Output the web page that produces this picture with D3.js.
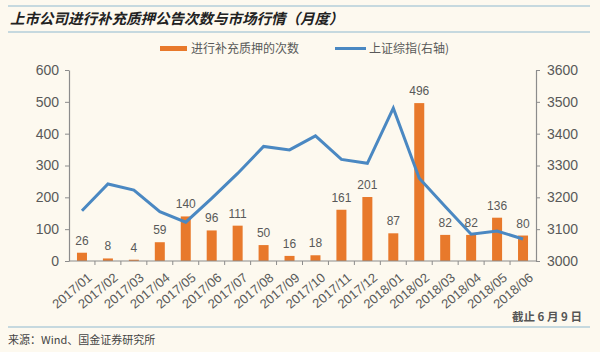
<!DOCTYPE html>
<html><head><meta charset="utf-8">
<script src="https://cdn.jsdelivr.net/npm/d3@7/dist/d3.min.js"></script>
<style>
html,body{margin:0;padding:0;background:#fdf9ef;}
svg{display:block;}
</style></head><body>
<svg id="c" width="600" height="352"></svg>
<script>
const months = ["2017/01","2017/02","2017/03","2017/04","2017/05","2017/06","2017/07","2017/08","2017/09","2017/10","2017/11","2017/12","2018/01","2018/02","2018/03","2018/04","2018/05","2018/06"];
const pledgeCounts = [26,8,4,59,140,96,111,50,16,18,161,201,87,496,82,82,136,80];
const shIndex = [3158,3242,3223,3155,3122,3197,3275,3360,3349,3393,3319,3307,3480,3260,3171,3084,3094,3069];
const leftTicks = [0,100,200,300,400,500,600];
const rightTicks = [3000,3100,3200,3300,3400,3500,3600];

const svg = d3.select("#c");
const W=600,H=352;
const bg="#fdf9ef", orange="#e8792b", blue="#4a88c2", axisCol="#8c8c8c", txt="#595959", rule="#8fb9cf";
const cjk = "'Noto Sans CJK SC','Noto Sans',sans-serif";
const lat = "'Liberation Sans',Arial,sans-serif";

svg.append("rect").attr("width",W).attr("height",H).attr("fill",bg);

// header rules & title
svg.append("line").attr("x1",8).attr("x2",590).attr("y1",6).attr("y2",6).attr("stroke",rule).attr("stroke-width",1.2);
svg.append("line").attr("x1",8).attr("x2",590).attr("y1",32).attr("y2",32).attr("stroke",rule).attr("stroke-width",1.2);
svg.append("text").attr("x",10).attr("y",24).attr("font-family",cjk).attr("font-size",14.5).attr("font-weight","bold")
  .attr("font-style","italic").attr("fill","#222").text("上市公司进行补充质押公告次数与市场行情（月度）");

const m={l:69,r:536,t:70,b:261};
const xb=d3.scaleBand().domain(months).range([m.l,m.r]);
const yL=d3.scaleLinear().domain([0,600]).range([m.b,m.t]);
const yR=d3.scaleLinear().domain([3000,3600]).range([m.b,m.t]);

// legend
const lg=svg.append("g");
lg.append("rect").attr("x",160).attr("y",46).attr("width",27).attr("height",5).attr("fill",orange);
lg.append("text").attr("x",191).attr("y",53).attr("font-family",cjk).attr("font-size",12).attr("fill",txt).text("进行补充质押的次数");
lg.append("line").attr("x1",335).attr("x2",366).attr("y1",48.5).attr("y2",48.5).attr("stroke",blue).attr("stroke-width",3);
lg.append("text").attr("x",369).attr("y",53).attr("font-family",cjk).attr("font-size",12).attr("fill",txt).text("上证综指(右轴)");

// bars
svg.append("g").selectAll("rect").data(months).join("rect")
  .attr("x",d=>xb(d)+xb.bandwidth()/2-5).attr("width",10)
  .attr("y",(d,i)=>yL(pledgeCounts[i])).attr("height",(d,i)=>m.b-yL(pledgeCounts[i]))
  .attr("fill",orange);

// line
const line=d3.line().x((d,i)=>xb(months[i])+xb.bandwidth()/2).y(d=>yR(d));
svg.append("path").datum(shIndex).attr("d",line).attr("fill","none").attr("stroke",blue).attr("stroke-width",3).attr("stroke-linejoin","miter");

// bar labels
svg.append("g").selectAll("text").data(months).join("text")
  .attr("x",d=>xb(d)+xb.bandwidth()/2).attr("y",(d,i)=>yL(pledgeCounts[i])-8)
  .attr("text-anchor","middle").attr("font-family",lat).attr("font-size",12).attr("fill",txt)
  .text((d,i)=>pledgeCounts[i]);

// left axis
const gl=svg.append("g").attr("transform",`translate(${m.l},0)`)
  .call(d3.axisLeft(yL).tickValues(leftTicks).tickSize(4).tickSizeOuter(0).tickPadding(6));
// right axis
const gr=svg.append("g").attr("transform",`translate(${m.r},0)`)
  .call(d3.axisRight(yR).tickValues(rightTicks).tickSize(4).tickSizeOuter(0).tickPadding(7).tickFormat(d3.format("d")));
[gl,gr].forEach(g=>{
  g.select(".domain").attr("stroke",axisCol).attr("stroke-width",1.2);
  g.selectAll(".tick line").attr("stroke",axisCol);
  g.selectAll(".tick text").attr("font-family",lat).attr("font-size",14).attr("fill",txt);
});
// x axis
const gx=svg.append("g").attr("transform",`translate(0,${m.b})`);
gx.append("line").attr("x1",m.l).attr("x2",m.r).attr("stroke",axisCol).attr("stroke-width",1.2);
gx.selectAll("line.t").data(months.slice(1)).join("line").attr("class","t")
  .attr("x1",d=>xb(d)).attr("x2",d=>xb(d)).attr("y1",0).attr("y2",4).attr("stroke",axisCol);
gx.selectAll("text").data(months).join("text")
  .attr("transform",d=>`translate(${xb(d)+xb.bandwidth()/2+5},${11}) rotate(-40)`)
  .attr("text-anchor","end").attr("dy","0.71em").attr("font-family",lat).attr("font-size",13).attr("fill",txt)
  .text(d=>d);

// footer
svg.append("text").attr("x",582).attr("y",321).attr("text-anchor","end").attr("font-family",cjk).attr("font-size",11.5)
  .attr("font-weight","bold").attr("fill","#555").text("截止 6 月 9 日");
svg.append("line").attr("x1",8).attr("x2",590).attr("y1",327).attr("y2",327).attr("stroke",rule).attr("stroke-width",1.2);
svg.append("text").attr("x",8).attr("y",344).attr("font-family",cjk).attr("font-size",11).attr("fill","#444").text("来源：Wind、国金证券研究所");
</script></body></html>
